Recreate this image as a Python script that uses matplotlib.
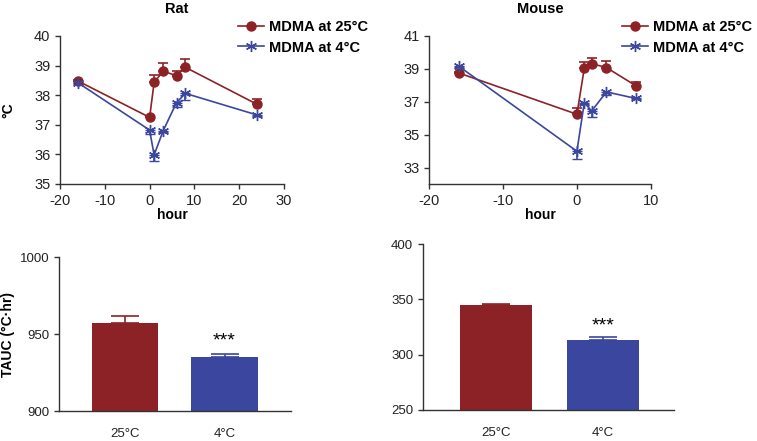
import numpy as np
import matplotlib
matplotlib.use('Agg')
import matplotlib.pyplot as plt
from matplotlib.lines import Line2D

plt.rcParams['font.family'] = ['Liberation Sans', 'DejaVu Sans']
plt.rcParams['axes.unicode_minus'] = False

# time course data (hours after MDMA)
rat_hours = [-16, 0, 1, 3, 6, 8, 24]
rat_warm = [38.48, 37.25, 38.43, 38.81, 38.66, 38.94, 37.69]
rat_warm_err = [0.03, 0.04, 0.25, 0.29, 0.15, 0.29, 0.18]
rat_cold = [38.42, 36.82, 35.98, 36.79, 37.75, 38.06, 37.33]
rat_cold_err = [0.03, 0.12, 0.20, 0.04, 0.15, 0.22, 0.04]

mouse_hours = [-16, 0, 1, 2, 4, 8]
mouse_warm = [38.75, 36.24, 39.04, 39.32, 39.08, 37.97]
mouse_warm_err = [0.05, 0.36, 0.36, 0.33, 0.37, 0.25]
mouse_cold = [39.16, 33.99, 36.95, 36.44, 37.60, 37.20]
mouse_cold_err = [0.05, 0.45, 0.10, 0.39, 0.20, 0.06]

# TAUC data
bar_labels = ['25°C', '4°C']
rat_tauc = [957.5, 935.4]
rat_tauc_err = [4.1, 1.8]
mouse_tauc = [344.6, 313.3]
mouse_tauc_err = [0.9, 2.4]

red = '#8C2226'
blue = '#3B479E'
star = (6, 2, 0)

fig = plt.figure(figsize=(7.57, 4.41), dpi=100)

ax_rat = fig.add_axes([0.0793, 0.5828, 0.2959, 0.3356])
ax_mouse = fig.add_axes([0.5671, 0.5828, 0.2925, 0.3356])
ax_rat_bar = fig.add_axes([0.0779, 0.068, 0.3065, 0.3485])
ax_mouse_bar = fig.add_axes([0.5588, 0.0703, 0.3316, 0.3764])


def style(ax, size):
    for s in ['top', 'right']:
        ax.spines[s].set_visible(False)
    for s in ['left', 'bottom']:
        ax.spines[s].set_color('#333333')
        ax.spines[s].set_linewidth(1.0)
    ax.tick_params(direction='out', length=3.5, width=1.0, color='#333333',
                   labelsize=size, labelcolor='#222222')


def time_course(ax, hours, warm, warm_err, cold, cold_err):
    z = np.zeros(len(hours))
    ax.errorbar(hours, warm, yerr=[z, warm_err], color=red, marker='o',
                markersize=6.5, lw=1.2, capsize=3.5, capthick=1.2, zorder=3)
    ax.errorbar(hours, cold, yerr=[cold_err, z], color=blue, marker=star,
                markersize=8, markeredgewidth=1.0, lw=1.2, capsize=3.5,
                capthick=1.2, zorder=3)
    style(ax, 10.5)
    ax.set_xlabel('hour', fontsize=10, fontweight='bold', labelpad=0)


time_course(ax_rat, rat_hours, rat_warm, rat_warm_err, rat_cold, rat_cold_err)
ax_rat.set_xlim(-20, 30)
ax_rat.set_ylim(35, 40)
ax_rat.set_xticks([-20, -10, 0, 10, 20, 30])
ax_rat.set_yticks([35, 36, 37, 38, 39, 40])
ax_rat.set_ylabel('°C', fontsize=10, fontweight='bold')
ax_rat.yaxis.set_label_coords(-0.2, 0.5)

time_course(ax_mouse, mouse_hours, mouse_warm, mouse_warm_err, mouse_cold, mouse_cold_err)
ax_mouse.set_xlim(-20, 10)
ax_mouse.set_ylim(32, 41)
ax_mouse.set_xticks([-20, -10, 0, 10])
ax_mouse.set_yticks([33, 35, 37, 39, 41])

handles = [Line2D([], [], color=red, marker='o', markersize=6.5, lw=1.2),
           Line2D([], [], color=blue, marker=star, markersize=8, lw=1.2)]
labels = ['MDMA at 25°C', 'MDMA at 4°C']
for x0 in [238, 622]:
    fig.legend(handles, labels, loc='upper left',
               bbox_to_anchor=(x0 / 757, 1 - 20 / 441),
               frameon=False, prop={'weight': 'bold', 'size': 10.5},
               handlelength=1.8, handletextpad=0.3, labelspacing=0.45,
               borderpad=0, borderaxespad=0)

fig.text(177 / 757, 1 - 9 / 441, 'Rat', ha='center', va='center',
         fontsize=10.5, fontweight='bold')
fig.text(540 / 757, 1 - 9 / 441, 'Mouse', ha='center', va='center',
         fontsize=10.5, fontweight='bold')


def tauc_bars(ax, vals, errs):
    x = np.arange(len(vals))
    ax.bar(x, vals, width=0.67, color=[red, blue], zorder=2)
    for xi, v, e, c in zip(x, vals, errs, [red, blue]):
        ax.errorbar(xi, v, yerr=[[0], [e]], color=c, capsize=10,
                    capthick=1.2, lw=1.2, zorder=3)
    style(ax, 9.5)
    ax.set_xticks(x)
    ax.set_xticklabels(bar_labels)
    ax.tick_params(axis='x', length=0, pad=12)


tauc_bars(ax_rat_bar, rat_tauc, rat_tauc_err)
ax_rat_bar.set_xlim(-0.663, 1.668)
ax_rat_bar.set_ylim(900, 1000)
ax_rat_bar.set_yticks([900, 950, 1000])
ax_rat_bar.set_ylabel('TAUC (°C·hr)', fontsize=10, fontweight='bold')
ax_rat_bar.yaxis.set_label_coords(-0.19, 0.5)
ax_rat_bar.text(1, 945.5, '***', ha='center', va='center', fontsize=14)

tauc_bars(ax_mouse_bar, mouse_tauc, mouse_tauc_err)
ax_mouse_bar.set_xlim(-0.682, 1.664)
ax_mouse_bar.set_ylim(250, 400)
ax_mouse_bar.set_yticks([250, 300, 350, 400])
ax_mouse_bar.text(1, 326, '***', ha='center', va='center', fontsize=14)

fig.savefig('out.png', dpi=100)
